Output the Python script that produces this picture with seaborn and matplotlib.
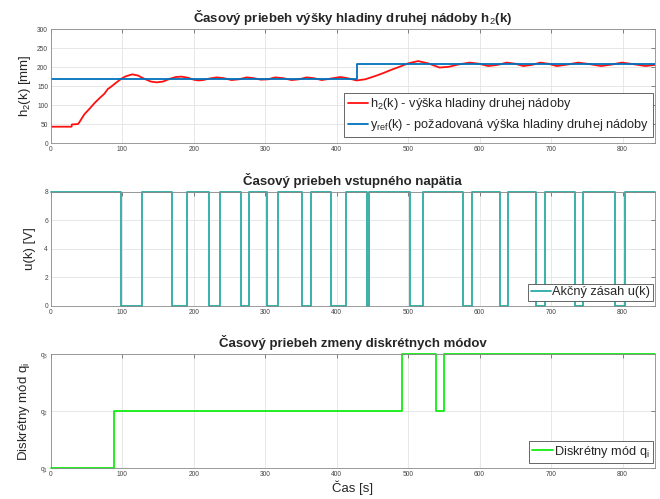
import numpy as np
import pandas as pd
import matplotlib
matplotlib.use("Agg")
import matplotlib.pyplot as plt
import seaborn as sns

# DATA
h2_t = [0, 29, 29.5, 38, 40, 47, 55, 61, 68, 75, 80, 82, 90, 99, 105, 114, 122, 130, 140, 148,
        157, 166, 175, 183, 192, 200, 206, 213, 222, 232, 242, 253, 263, 274, 284, 294, 304, 314,
        325, 337, 347, 358, 368, 379, 392, 405, 415, 428, 440, 456, 466, 475, 488, 500, 514, 528,
        544, 557, 570, 586, 599, 612, 625, 638, 650, 661, 673, 685, 696, 708, 723, 738, 754, 770,
        785, 799, 815, 832, 845]
h2_val = [43, 43, 49, 50, 55, 76, 92, 105, 118, 130, 143, 145, 157, 170, 176, 181, 178, 170, 162, 160,
          162, 169, 174, 175, 172, 167, 165, 166, 170, 173, 171, 166, 168, 173, 171, 167, 168, 173,
          171, 166, 168, 173, 171, 166, 170, 174, 171, 165, 168, 178, 185, 192, 201, 210, 216, 210,
          199, 201, 207, 212, 209, 203, 206, 212, 209, 203, 206, 212, 209, 203, 207, 212, 208, 203,
          207, 212, 208, 203, 206]

yref_t = [0, 429, 845]
yref_val = [170, 208, 208]

u_t = [0, 98, 128, 170, 190, 222, 237, 266, 278, 302, 318, 351, 364, 392, 413, 443, 445,
       503, 521, 577, 590, 628, 640, 679, 691, 733, 744, 790, 803, 845]
u_val = [8, 0, 8, 0, 8, 0, 8, 0, 8, 0, 8, 0, 8, 0, 8, 0, 8,
         0, 8, 0, 8, 0, 8, 0, 8, 0, 8, 0, 8, 8]

q_t = [0, 88, 491, 539, 550, 845]
q_val = [1, 2, 3, 2, 3, 3]

x_max = 845

sns.set_theme(style="whitegrid")
plt.rcParams['font.family'] = ['Liberation Sans', 'DejaVu Sans']
plt.rcParams['mathtext.fontset'] = 'custom'
plt.rcParams['mathtext.rm'] = 'Liberation Sans'
plt.rcParams['mathtext.it'] = 'Liberation Sans'


def style_axes(ax):
    ax.set_facecolor('white')
    ax.grid(True, color='#e3e3e3', linewidth=0.6)
    for s in ax.spines.values():
        s.set_color('#8a8a8a')
        s.set_linewidth(0.6)
    ax.tick_params(axis='both', which='both', direction='in', length=3, width=0.5,
                   color='#555555', labelsize=4.8, labelcolor='#444444',
                   top=True, right=True, pad=2)
    ax.set_xlim(0, x_max)
    ax.set_xticks(np.arange(0, 900, 100))


def style_legend(leg):
    fr = leg.get_frame()
    fr.set_edgecolor('#4d4d4d')
    fr.set_linewidth(0.6)
    fr.set_boxstyle('square', pad=0)


leg_kw = dict(loc='lower right', fontsize=9.2, handlelength=1.6, handletextpad=0.1,
              borderaxespad=0, fancybox=False, framealpha=1)

fig = plt.figure(figsize=(6.6, 4.99), dpi=100)
ax1 = fig.add_axes([0.077, 0.7134, 0.915, 0.228])
ax2 = fig.add_axes([0.077, 0.387, 0.915, 0.229])
ax3 = fig.add_axes([0.077, 0.062, 0.915, 0.228])

# TOP: WATER LEVEL OF THE SECOND TANK
df_h2 = pd.DataFrame({'t': h2_t, 'h': h2_val})
df_ref = pd.DataFrame({'t': yref_t, 'y': yref_val})
sns.lineplot(data=df_h2, x='t', y='h', ax=ax1, color='#ff1010', linewidth=1.3, estimator=None,
             label='h$_2$(k) - výška hladiny druhej nádoby')
sns.lineplot(data=df_ref, x='t', y='y', ax=ax1, color='#0072bd', linewidth=1.3, estimator=None,
             drawstyle='steps-post',
             label='y$_{ref}$(k) - požadovaná výška hladiny druhej nádoby')
style_axes(ax1)
ax1.set_ylim(0, 300)
ax1.set_yticks(np.arange(0, 301, 50))
ax1.set_xlabel('')
ax1.set_ylabel('h$_2$(k) [mm]', fontsize=9.5, labelpad=3)
ax1.set_title('Časový priebeh výšky hladiny druhej nádoby h$_2$(k)', fontsize=9.5,
              fontweight='bold', pad=5)
leg1 = ax1.legend(borderpad=0.3, labelspacing=0.4, bbox_to_anchor=(0.997, 0.05), **leg_kw)
style_legend(leg1)

# MIDDLE: INPUT VOLTAGE
df_u = pd.DataFrame({'t': u_t, 'u': u_val})
sns.lineplot(data=df_u, x='t', y='u', ax=ax2, color='#2aaba6', linewidth=1.3, estimator=None,
             drawstyle='steps-post', clip_on=False, label='Akčný zásah u(k)')
style_axes(ax2)
ax2.set_ylim(0, 8)
ax2.set_yticks(np.arange(0, 9, 2))
ax2.set_xlabel('')
ax2.set_ylabel('u(k) [V]', fontsize=9.5, labelpad=6)
ax2.set_title('Časový priebeh vstupného napätia', fontsize=9.5, fontweight='bold', pad=5)
leg2 = ax2.legend(borderpad=0.2, bbox_to_anchor=(0.997, 0.045), **leg_kw)
style_legend(leg2)

# BOTTOM: DISCRETE MODES
df_q = pd.DataFrame({'t': q_t, 'q': q_val})
sns.lineplot(data=df_q, x='t', y='q', ax=ax3, color='#11ee11', linewidth=1.3, estimator=None,
             drawstyle='steps-post', clip_on=False, label='Diskrétny mód q$_i$')
style_axes(ax3)
ax3.set_ylim(1, 3)
ax3.set_yticks([1, 2, 3])
ax3.set_yticklabels(['q$_1$', 'q$_2$', 'q$_3$'])
ax3.set_xlabel('Čas [s]', fontsize=9.5, labelpad=2)
ax3.set_ylabel('Diskrétny mód q$_i$', fontsize=9.5, labelpad=6)
ax3.set_title('Časový priebeh zmeny diskrétnych módov', fontsize=9.5, fontweight='bold', pad=5)
leg3 = ax3.legend(borderpad=0.25, bbox_to_anchor=(0.997, 0.045), **leg_kw)
style_legend(leg3)

fig.savefig('out.png', dpi=100)
